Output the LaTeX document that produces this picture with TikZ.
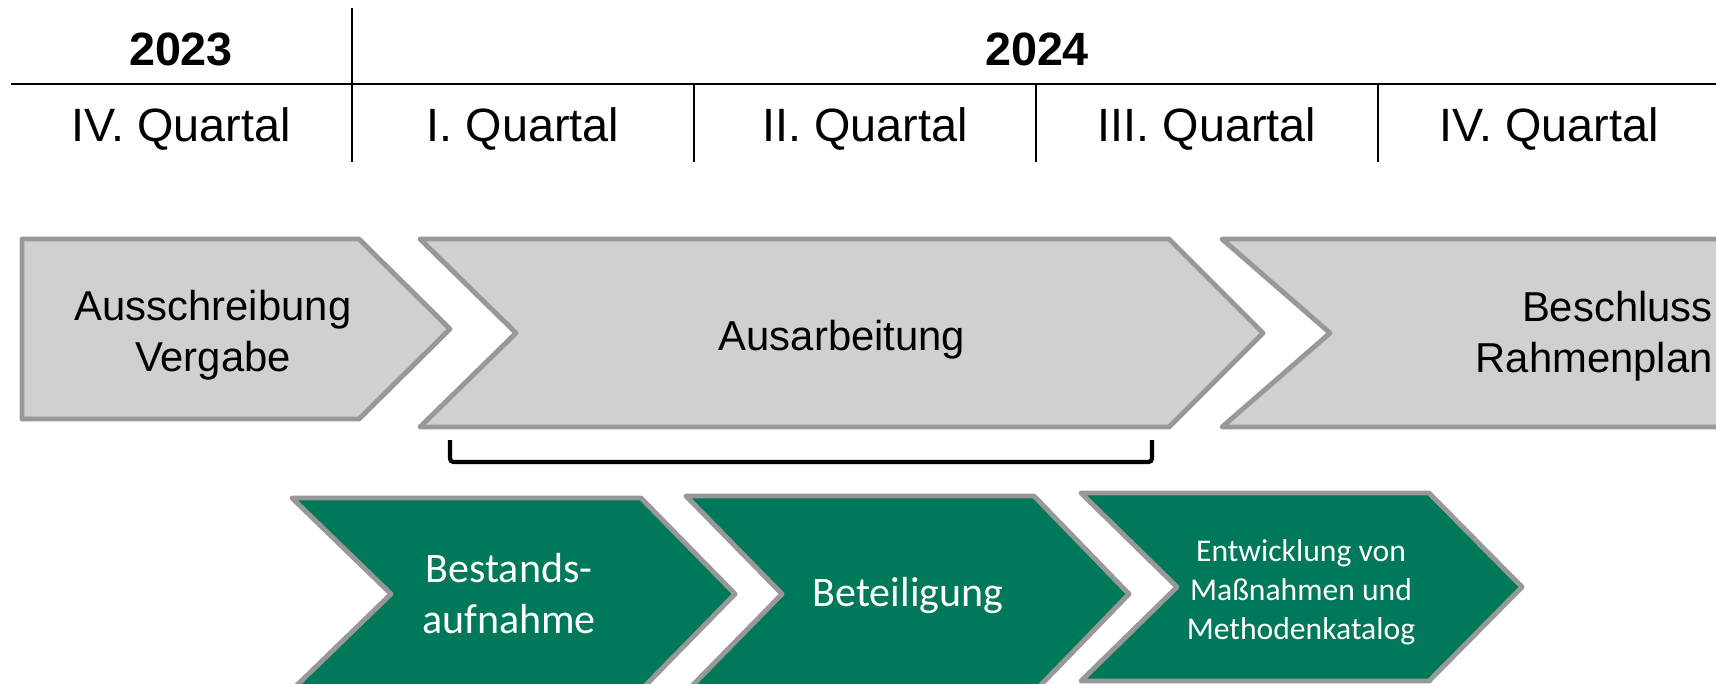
\documentclass[tikz,border=0pt]{standalone}
\usepackage{fontspec}
\setmainfont{Liberation Sans}
\newfontfamily\carlito{Carlito}
\usetikzlibrary{positioning}

\definecolor{phasegrau}{RGB}{208,208,208}
\definecolor{randgrau}{RGB}{152,152,152}
\definecolor{stufegruen}{RGB}{0,120,90}

\tikzset{
	x=0.02cm, y=-0.02cm, % one unit = one pixel, y runs downwards
	phase/.style={fill=phasegrau, draw=randgrau, line width=2.8pt, line join=round}, % grey chevrons
	stufe/.style={phase, fill=stufegruen}, % green sub steps
	linie/.style={line width=1.5pt},
	klammer/.style={line width=2.4pt, rounded corners=2pt},
	jahr/.style={font=\fontsize{26.6}{30}\selectfont\bfseries},
	quartal/.style={font=\fontsize{26.6}{30}\selectfont},
	phasetext/.style={align=center, font=\fontsize{23.8}{29}\selectfont},
	stufetext/.style={align=center, text=white, font=\carlito\fontsize{23.9}{29}\selectfont},
	kleintext/.style={stufetext, font=\carlito\fontsize{18}{22.2}\selectfont},
}

\begin{document}
\begin{tikzpicture}
	\useasboundingbox (0,0) rectangle (1716,683);
	\clip (0,0) rectangle (1716,683);

	% time axis: years and quarters
	\draw[linie] (11,84) -- (1716,84);
	\draw[linie] (352,8) -- (352,162);
	\foreach \x in {694,1036,1378}
		\draw[linie] (\x,84) -- (\x,162);
	\node[jahr] (j2023) at (181,49) {2023};
	\node[jahr] (j2024) at (1037,49) {2024};
	\foreach \x/\q [count=\i] in {181/IV., 523/I., 865/II., 1207/III., 1549/IV.}
		\node[quartal] (q\i) at (\x,129) {\q{} Quartal};

	% the main phases
	\draw[phase] (22,239) -- (359,239) -- (450,329) -- (359,419) -- (22,419) -- cycle;
	\draw[phase] (420,239) -- (1169,239) -- (1263,333) -- (1169,427) -- (420,427) -- (516,333) -- cycle;
	\draw[phase] (1222,239) -- (1760,239) -- (1760,427) -- (1222,427) -- (1330,333) -- cycle;
	\node[phasetext] (vergabe) at (213,335) {Ausschreibung\\Vergabe};
	\node[phasetext] (ausarbeitung) at (842,340) {Ausarbeitung};
	\node[phasetext, align=right, anchor=east, inner sep=0pt] (beschluss) at (1713,336) {Beschluss\\Rahmenplan};

	%% bracket below the Ausarbeitung
	\coordinate (klammer-a) at (450,440);
	\coordinate (klammer-b) at (1152,440);
	\draw[klammer] (klammer-a) -- ++(0,22) -| (klammer-b);

	%% green sub steps
	\draw[stufe] (292,498) -- (641,498) -- (735,594) -- (641,690) -- (292,690) -- (391,594) -- cycle;
	\draw[stufe] (686,496) -- (1034,496) -- (1129,594) -- (1034,692) -- (686,692) -- (782,594) -- cycle;
	\draw[stufe] (1081,493) -- (1429,493) -- (1522,587) -- (1429,681) -- (1081,681) -- (1177,587) -- cycle;
	\node[stufetext] (bestand) at (509,594) {Bestands-\\aufnahme};
	\node[stufetext] (beteiligung) at (908,596) {Beteiligung};
	\node[kleintext] (katalog) at (1301,592) {Entwicklung von\\Maßnahmen und\\Methodenkatalog};
\end{tikzpicture}
\end{document}
